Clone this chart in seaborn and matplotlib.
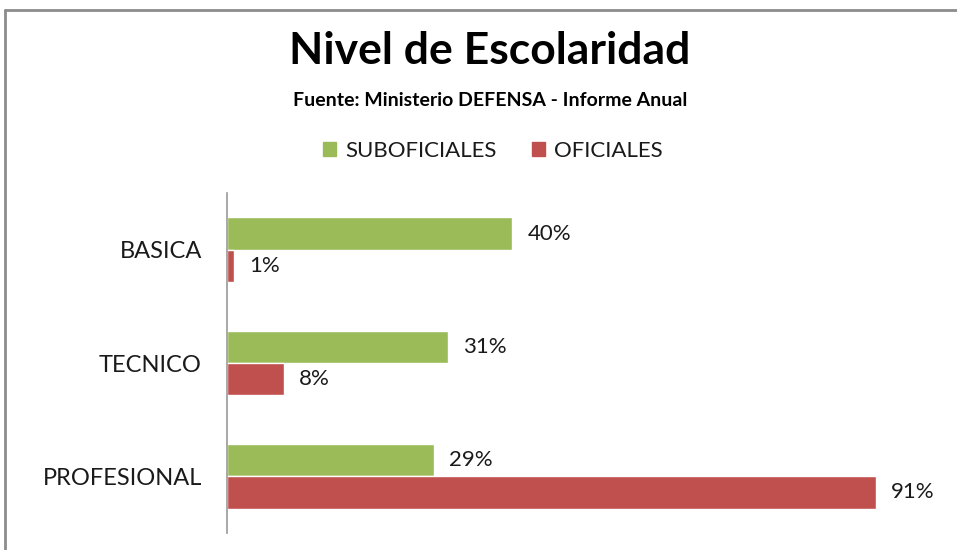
import pandas as pd
import matplotlib.pyplot as plt
import seaborn as sns
from matplotlib.lines import Line2D
from matplotlib.patches import Patch

# Chart values
niveles = ["BASICA", "TECNICO", "PROFESIONAL"]
suboficiales = [40, 31, 29]
oficiales = [1, 8, 91]
series = ["SUBOFICIALES", "OFICIALES"]
colores = ["#9BBB59", "#C0504D"]

df = pd.DataFrame({
    "nivel": niveles * 2,
    "grupo": [series[0]] * len(niveles) + [series[1]] * len(niveles),
    "valor": suboficiales + oficiales,
})

sns.set_style("white")
plt.rcParams["font.family"] = ["Lato", "DejaVu Sans"]

fig = plt.figure(figsize=(9.57, 5.5), dpi=100)
ax = fig.add_axes([0.237, 0.031, 0.745, 0.618])

sns.barplot(data=df, y="nivel", x="valor", hue="grupo", order=niveles,
            hue_order=series, palette=colores, width=0.57, saturation=1,
            orient="h", ax=ax, legend=False)

for cont in ax.containers:
    ax.bar_label(cont, labels=[f"{v:.0f}%" for v in cont.datavalues],
                 padding=11, fontsize=16, color="#1a1a1a")

ax.set_xlim(0, 100)
ax.set_ylim(2.5, -0.5)
ax.set_xlabel("")
ax.set_ylabel("")
ax.set_xticks([])
ax.tick_params(axis="y", length=0, pad=18, labelsize=17, labelcolor="#1a1a1a")
for s in ["top", "right", "bottom"]:
    ax.spines[s].set_visible(False)
ax.spines["left"].set_color("#999999")
ax.spines["left"].set_linewidth(1.2)

# Title, source and legend
fig.text(0.512, 0.908, "Nivel de Escolaridad", ha="center", va="center",
         fontsize=32, fontweight="bold", color="black")
fig.text(0.512, 0.817, "Fuente: Ministerio DEFENSA - Informe Anual",
         ha="center", va="center", fontsize=14, fontweight="bold", color="black")
handles = [Patch(color=c, label=s) for c, s in zip(colores, series)]
fig.legend(handles=handles, loc="center", bbox_to_anchor=(0.515, 0.725),
           ncol=2, frameon=False, fontsize=16, handlelength=0.6,
           handleheight=0.6, handletextpad=0.4, columnspacing=1.6,
           labelcolor="#1a1a1a")

# Chart border (top and left edges visible)
fig.add_artist(Line2D([0.005, 0.005], [0, 0.982], color="#8c8c8c", lw=2))
fig.add_artist(Line2D([0.005, 1], [0.982, 0.982], color="#8c8c8c", lw=2))

plt.savefig("out.png", dpi=100)
